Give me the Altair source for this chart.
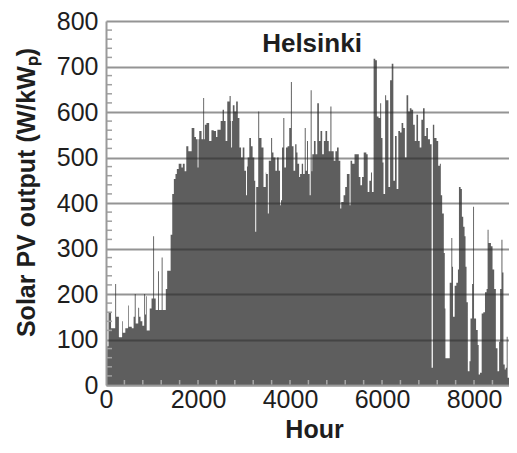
import altair as alt
import pandas as pd

# Envelope of hourly Solar PV output (step starts)
hours = [
    0, 25, 55, 110, 200, 220, 280, 350, 365, 420, 480, 495, 560, 600, 625, 645,
    700, 720, 750, 790, 830, 850, 870, 885, 950, 990, 1025, 1045, 1080, 1130, 1150,
    1210, 1230, 1300, 1330, 1370, 1405, 1440, 1475, 1510, 1540, 1580, 1610, 1640,
    1670, 1710, 1745, 1790, 1862, 1920, 1955, 1991, 2010, 2027, 2077, 2113, 2133,
    2149, 2184, 2242, 2292, 2342, 2392, 2421, 2492, 2535, 2564, 2600, 2636, 2686,
    2710, 2721, 2740, 2757, 2793, 2829, 2865, 2900, 2936, 2972, 3008, 3044, 3065,
    3079, 3115, 3151, 3187, 3223, 3244, 3265, 3309, 3330, 3380, 3423, 3473,
    3482, 3518, 3539, 3589, 3611, 3640, 3682, 3718, 3754, 3783, 3804, 3826, 3854,
    3876, 3912, 3947, 3983, 4019, 4040, 4076, 4112, 4141, 4162, 4198, 4219, 4255,
    4284, 4320, 4341, 4370, 4391, 4427, 4449, 4470, 4484, 4520, 4556, 4592, 4628,
    4663, 4699, 4735, 4771, 4807, 4842, 4878, 4900, 4950, 4986, 5021, 5057, 5093,
    5114, 5164, 5200, 5236, 5294, 5316, 5351, 5402, 5459, 5495, 5530, 5566, 5602,
    5659, 5688, 5724, 5760, 5781, 5817, 5853, 5888, 5924, 5960, 5981, 6010, 6032,
    6067, 6089, 6118, 6139, 6175, 6211, 6246, 6282, 6318, 6354, 6390, 6425, 6461,
    6497, 6533, 6569, 6604, 6640, 6676, 6712, 6748, 6783, 6819, 6855, 6891, 6926,
    6962, 6998, 7042, 7078, 7105, 7135, 7185, 7221, 7257, 7278, 7307, 7343, 7364,
    7378, 7450, 7471, 7507, 7527, 7543, 7579, 7615, 7650, 7672, 7708, 7736, 7765,
    7794, 7815, 7837, 7865, 7901, 7923, 7958, 7980, 8000, 8044, 8080, 8101, 8130,
    8166, 8202, 8238, 8273, 8295, 8315, 8331, 8367, 8402, 8438, 8474, 8510, 8545,
    8567, 8596, 8617, 8639, 8667, 8689, 8710, 8730, 8760,
]
values = [
    60, 85, 160, 125, 222, 150, 105, 140, 115, 125, 175, 128, 125, 150, 200, 135,
    170, 150, 140, 130, 200, 155, 195, 120, 168, 190, 327, 190, 165, 250, 165,
    280, 165, 211, 251, 251, 330, 420, 453, 464, 475, 486, 486, 478,
    486, 470, 525, 514, 565, 545, 540, 478, 540, 558, 540, 631, 540,
    572, 576, 536, 560, 558, 545, 561, 580, 605, 580, 536, 623, 635,
    580, 522, 580, 615, 601, 623, 587, 522, 500, 522, 471, 417, 480,
    500, 543, 525, 500, 449, 337, 435, 601, 543, 522, 435, 467,
    464, 377, 493, 543, 511, 500, 471, 500, 471, 395, 406, 522, 587,
    478, 522, 525, 565, 666, 525, 471, 529, 511, 486, 457, 464, 486,
    464, 565, 471, 536, 464, 417, 648, 470, 507, 536, 507, 619, 536,
    558, 507, 536, 558, 536, 514, 612, 514, 493, 514, 522, 493, 388,
    402, 417, 435, 464, 395, 493, 486, 507, 507, 457, 439, 457, 511,
    507, 424, 449, 467, 424, 717, 714, 590, 587, 619, 543, 489, 420,
    637, 626, 626, 435, 670, 706, 449, 547, 431, 558, 555, 576, 565,
    500, 637, 601, 608, 605, 572, 536, 594, 536, 522, 583, 608, 547,
    565, 540, 529, 38, 572, 543, 536, 482, 486, 417, 377, 290, 168,
    59, 59, 225, 323, 260, 150, 218, 225, 254, 435, 431, 370, 348,
    327, 260, 182, 30, 52, 146, 222, 392, 146, 121, 88, 23, 27,
    157, 160, 204, 211, 341, 312, 312, 305, 254, 211, 81, 30, 95,
    211, 319, 247, 45, 34, 38, 106, 16, 0,
]

y_minor_ticks = [v for v in range(20, 800, 20) if v % 100 != 0]
x_minor_ticks = list(range(400, 8760, 400))
y_grid = list(range(0, 900, 100))
x_labels = list(range(0, 10000, 2000))

df = pd.DataFrame({"Hour": hours, "PV": values})
dy = pd.DataFrame({"PV": y_minor_ticks})
dx = pd.DataFrame({"Hour": x_minor_ticks})

FONT = "Liberation Sans"
FILL = "#5e5e5e"
TXT = "#1e1e1e"
W, H = 403, 364

xscale = alt.Scale(domain=[0, 8760], nice=False, zero=False)
yscale = alt.Scale(domain=[0, 800], nice=False)

xaxis = alt.Axis(values=x_labels, title="Hour", grid=False, ticks=False, format="d",
                 labelFont=FONT, labelFontSize=25, labelColor=TXT,
                 labelPadding=2, labelFlush=False,
                 titleFont=FONT, titleFontSize=25, titleFontWeight="bold",
                 titleColor=TXT, titleX=208, titleY=44,
                 titleBaseline="middle", titleAlign="center",
                 domainColor="#9a9a9a", domainWidth=2, zindex=1)
yaxis = alt.Axis(values=y_grid, title="Solar PV output (W/kWₚ)",
                 grid=True, gridColor="#2a2a2a", gridOpacity=0.5, gridWidth=2,
                 ticks=False, labelFont=FONT, labelFontSize=25,
                 labelColor=TXT, labelPadding=8, labelFlush=False,
                 titleFont=FONT, titleFontSize=25, titleFontWeight="bold",
                 titleColor=TXT, titleAngle=-90, titleX=-80, titleY=171,
                 titleBaseline="middle", titleAlign="center",
                 domainColor="#9a9a9a", domainWidth=2, zindex=1)

X = alt.X("Hour:Q", scale=xscale, axis=xaxis)
Y = alt.Y("PV:Q", scale=yscale, axis=yaxis)

area = alt.Chart(df).mark_area(interpolate="step-after", color=FILL).encode(x=X, y=Y)

ytick = alt.Chart(dy).mark_rule(color="#a0a0a0", strokeWidth=1.5).encode(
    y=Y, x=alt.value(0), x2=alt.value(6),
)

xtick = alt.Chart(dx).mark_rule(color="#a8a8a8", strokeWidth=1.5).encode(
    x=X, y=alt.value(H), y2=alt.value(H - 5),
)

label = alt.Chart(pd.DataFrame({"t": ["Helsinki"], "Hour": [4478], "PV": [750]})).mark_text(
    font=FONT, fontSize=26, fontWeight="bold", color=TXT, baseline="middle"
).encode(x=X, y=Y, text="t:N")

chart = alt.layer(area, ytick, xtick, label).properties(
    width=W, height=H,
    padding={"left": 98, "top": 13, "right": 0, "bottom": 58},
    autosize=alt.AutoSizeParams(type="none"),
).configure_view(stroke=None)

chart.save("out.html", embed_options={"renderer": "svg", "actions": False})
